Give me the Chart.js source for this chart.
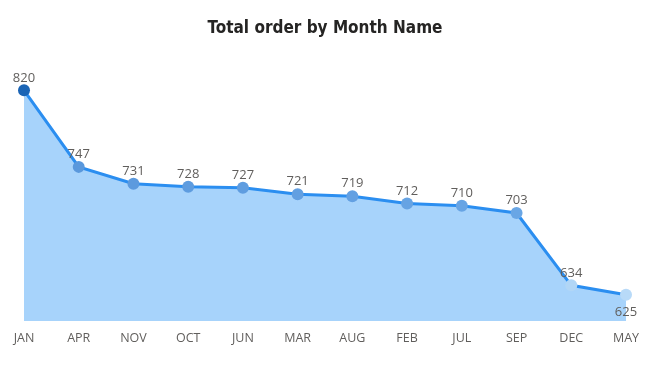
<!DOCTYPE html>
<html>
<head>
<meta charset="utf-8">
<script src="https://cdn.jsdelivr.net/npm/chart.js@4"></script>
<style>
  html, body { margin: 0; padding: 0; background: #fff; }
  #wrap { width: 650px; height: 366px; }
</style>
</head>
<body>
<div id="wrap"><canvas id="chartOrders" width="650" height="366"></canvas></div>
<script>
var months = ['JAN', 'APR', 'NOV', 'OCT', 'JUN', 'MAR', 'AUG', 'FEB', 'JUL', 'SEP', 'DEC', 'MAY'];
var totalOrders = [820, 747, 731, 728, 727, 721, 719, 712, 710, 703, 634, 625];

var pointColors = ['#1a64b5', '#5a98dc', '#5c9ade', '#5e9cdf', '#5f9de0', '#629fe1', '#63a0e2', '#66a3e3', '#67a4e4', '#69a6e5', '#b1d6f6', '#b8daf8'];

// etiquetas de valor acima dos pontos (o último fica abaixo)
var valueLabels = {
    id: 'valueLabels',
    afterDatasetsDraw: function(chart) {
        var ctx = chart.ctx;
        var meta = chart.getDatasetMeta(0);
        ctx.save();
        ctx.font = '13px "Open Sans", sans-serif';
        ctx.fillStyle = '#605e5c';
        ctx.textAlign = 'center';
        meta.data.forEach(function(pt, i) {
            var last = i === meta.data.length - 1;
            ctx.textBaseline = last ? 'top' : 'bottom';
            ctx.fillText(String(totalOrders[i]), pt.x, last ? pt.y + 11 : pt.y - 6);
        });
        ctx.restore();
    }
};

new Chart(document.getElementById('chartOrders'), {
    type: 'line',
    data: {
        labels: months,
        datasets: [{
            label: 'Total order',
            data: totalOrders,
            borderColor: '#2b8ef0',
            borderWidth: 3,
            backgroundColor: '#a7d3fb',
            fill: 'start',
            tension: 0,
            pointRadius: 6,
            pointBackgroundColor: pointColors,
            pointBorderColor: pointColors,
            pointBorderWidth: 0
        }]
    },
    options: {
        responsive: false,
        animation: false,
        layout: { padding: { left: 24, right: 24, top: 0, bottom: 10 } },
        plugins: {
            legend: { display: false },
            tooltip: { enabled: false },
            title: {
                display: true,
                text: 'Total order by Month Name',
                color: '#252423',
                font: { family: '"DejaVu Sans Condensed", "DejaVu Sans", sans-serif', size: 17, weight: 'bold' },
                padding: { top: 18, bottom: 10 }
            }
        },
        scales: {
            x: {
                offset: false,
                grid: { display: false, drawTicks: false },
                border: { display: false },
                ticks: {
                    color: '#605e5c',
                    padding: 10,
                    maxRotation: 0,
                    autoSkip: false,
                    font: { family: '"Open Sans", sans-serif', size: 12.5 }
                }
            },
            y: {
                display: false,
                min: 600,
                max: 860
            }
        }
    },
    plugins: [valueLabels]
});
</script>
</body>
</html>
